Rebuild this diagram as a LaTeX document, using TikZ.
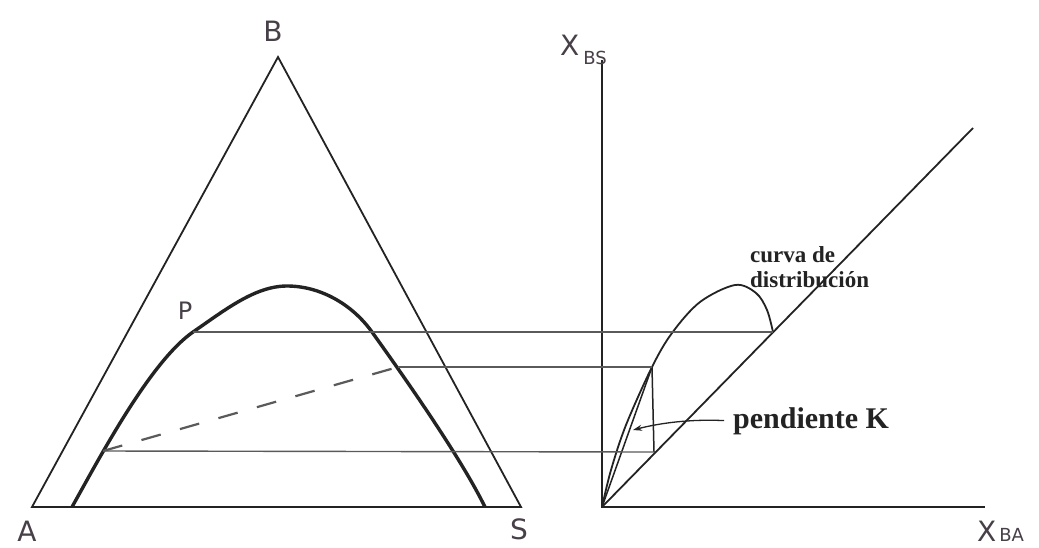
\documentclass[tikz,border=0pt]{standalone}
\usepackage{fontspec}
\setmainfont{Liberation Serif}
\newfontfamily\lblfont{DejaVu Sans}
\usetikzlibrary{arrows.meta}
\definecolor{lblgray}{RGB}{72,64,72}
\definecolor{inkline}{RGB}{35,35,35}
\definecolor{tiegray}{RGB}{90,90,90}
\begin{document}
\begin{tikzpicture}[x=1pt,y=-1pt,
  frame/.style={line width=1.8pt, draw=inkline},
  binodal/.style={line width=3.4pt, draw=inkline},
  tieline/.style={line width=1.4pt, draw=tiegray},
  dashline/.style={line width=2.2pt, draw=tiegray, dash pattern=on 20pt off 20pt},
  axislbl/.style={font=\lblfont\fontsize{28}{28}\selectfont, text=lblgray, inner sep=0pt},
  serlbl/.style={font=\bfseries, text=inkline, inner sep=0pt},
]
\useasboundingbox (0,0) rectangle (1039,547);
\fill[white] (0,0) rectangle (1039,547);

% ---- triangle diagram ----
\coordinate (A) at (32,507);
\coordinate (B) at (278,57);
\coordinate (S) at (521,507);
\draw[frame, line join=miter] (A) -- (B) -- (S) -- cycle;

\coordinate (b0) at (72,507);
\coordinate (t1) at (103,451);
\coordinate (P) at (193,332);
\coordinate (top) at (287,286);
\coordinate (r1) at (372,332);
\coordinate (t2) at (398,367);
\coordinate (b1) at (485,507);
\draw[binodal] (b0) .. controls (100,457) and (150,362) .. (P)
  .. controls (225,310) and (255,286) .. (top)
  .. controls (320,286) and (352,304) .. (r1)
  .. controls (410,385) and (462,460) .. (b1);

% ---- distribution diagram ----
\coordinate (O) at (602,507);
\coordinate (Ytop) at (602,60);
\coordinate (Xend) at (985,507);
\coordinate (Dend) at (973,128);
\draw[frame] (Ytop) -- (O) -- (Xend);
\draw[frame] (O) -- (Dend);

\coordinate (q1) at (652,367);
\coordinate (q2) at (773,332);
\coordinate (q3) at (654,452);
\draw[frame] plot[smooth, tension=0.55] coordinates
  {(O) (611,470) (626,425) (q1) (672,333) (700,302) (735,285) (756,293) (767,310) (q2)};
\draw[frame, line width=1.5pt] (O) -- (q1);
\draw[frame, line width=1.5pt] (q1) -- (q3);

% ---- tie lines ----
\draw[tieline] (P) -- (q2);
\draw[tieline] (t2) -- (q1);
\draw[tieline] (t1) -- (q3);
\draw[dashline] (t1) -- (t2);

% ---- labels ----
\node[axislbl] (lA) at (27,531) {A};
\node[axislbl] (lB) at (273,31) {B};
\node[axislbl] (lS) at (519,529) {S};
\node[axislbl, font=\lblfont\fontsize{24}{24}\selectfont] (lP) at (185,311) {P};
\node[axislbl, anchor=base west] (xbs) at (560,55)
  {X\kern4pt\raisebox{-9pt}{\fontsize{18}{18}\selectfont BS}};
\node[axislbl, anchor=base west] (xba) at (977,541)
  {X\kern3pt{\fontsize{18}{18}\selectfont BA}};

\node[serlbl, font=\bfseries\fontsize{23}{25}\selectfont, anchor=north west, align=left]
  (cd) at (750,246) {curva de\\distribución};
\node[serlbl, font=\bfseries\fontsize{30}{30}\selectfont, anchor=west] (pk) at (733,421) {pendiente K};
\coordinate (ktip) at (633,430);
\draw[line width=1.3pt, draw=inkline, shorten <=9pt, -{Stealth[length=9pt,width=6pt]}]
  (pk.west) .. controls (690,419) and (660,423) .. (ktip);
\end{tikzpicture}
\end{document}
